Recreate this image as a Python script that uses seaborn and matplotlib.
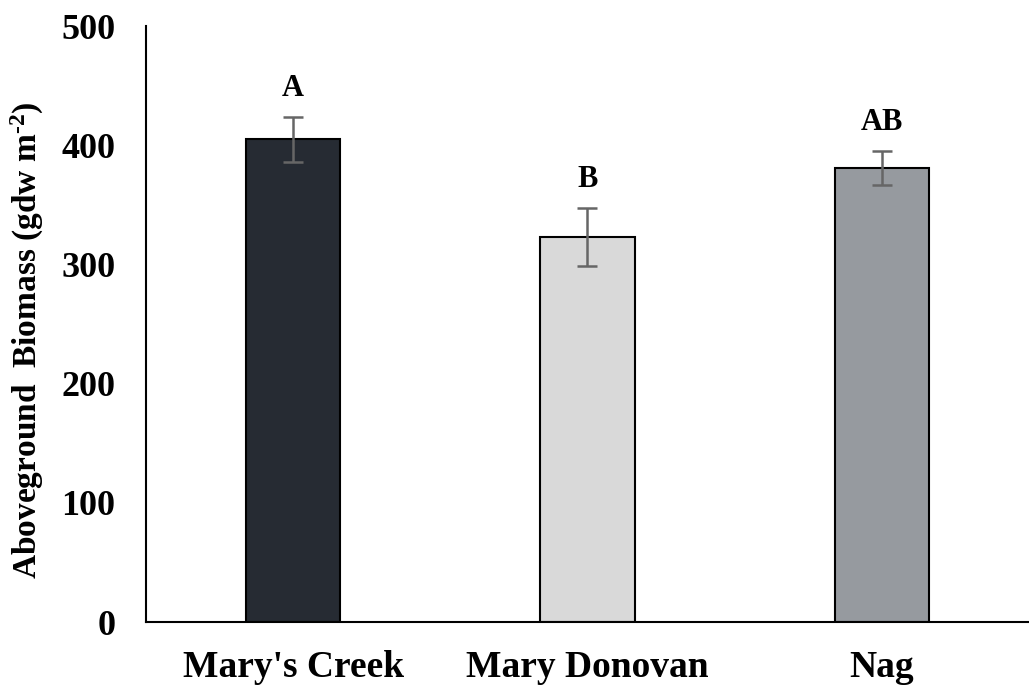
import matplotlib
matplotlib.use("Agg")
import matplotlib.pyplot as plt
import seaborn as sns
import pandas as pd

sites = ["Mary's Creek", "Mary Donovan", "Nag"]
biomass = [405, 323, 381]
erro = [19, 24.5, 14]
letras = ["A", "B", "AB"]
cores = ["#242a35", "#d9d9d9", "#959aa0"]

df = pd.DataFrame({"Site": sites, "Biomass": biomass, "SE": erro})

sns.set_style("white")
plt.rcParams["font.family"] = ["Liberation Serif", "DejaVu Serif"]
plt.rcParams["text.color"] = "black"
plt.rcParams["axes.labelcolor"] = "black"
plt.rcParams["xtick.color"] = "black"
plt.rcParams["ytick.color"] = "black"
plt.rcParams["mathtext.fontset"] = "custom"
plt.rcParams["mathtext.rm"] = "Liberation Serif:bold"
plt.rcParams["mathtext.it"] = "Liberation Serif:bold"
plt.rcParams["mathtext.bf"] = "Liberation Serif:bold"

fig = plt.figure(figsize=(10.29, 6.89), dpi=100)
ax = fig.add_axes([0.1419, 0.0972, 0.858, 0.865])

sns.barplot(data=df, x="Site", y="Biomass", hue="Site", palette=cores, legend=False,
            width=0.32, edgecolor="black", linewidth=1.5, ax=ax)
ax.errorbar(range(len(sites)), df["Biomass"], yerr=df["SE"], fmt="none",
            ecolor="#666666", elinewidth=1.8, capsize=7, capthick=1.8)

for i, (v, e, l) in enumerate(zip(biomass, erro, letras)):
    ax.annotate(l, (i, v + e), xytext=(0, 10), textcoords="offset points",
                ha="center", va="bottom", fontsize=22, fontweight="bold")

ax.set_xlim(-0.5, 2.5)
ax.set_ylim(0, 500)
ax.set_yticks([0, 100, 200, 300, 400, 500])
ax.set_xlabel("")
ax.set_ylabel("Aboveground  Biomass (gdw m$^{\\text{-}2}$)", fontsize=24, fontweight="bold")
ax.yaxis.set_label_coords(-0.113, 0.473)
ax.tick_params(axis="both", length=0, labelsize=26)
ax.tick_params(axis="y", pad=22)
ax.tick_params(axis="x", labelsize=27, pad=20)
for t in ax.get_xticklabels() + ax.get_yticklabels():
    t.set_fontweight("bold")

sns.despine(ax=ax)
ax.spines["left"].set_linewidth(1.5)
ax.spines["bottom"].set_linewidth(1.5)
ax.spines["left"].set_color("black")
ax.spines["bottom"].set_color("black")

fig.savefig("out.png", dpi=100)
